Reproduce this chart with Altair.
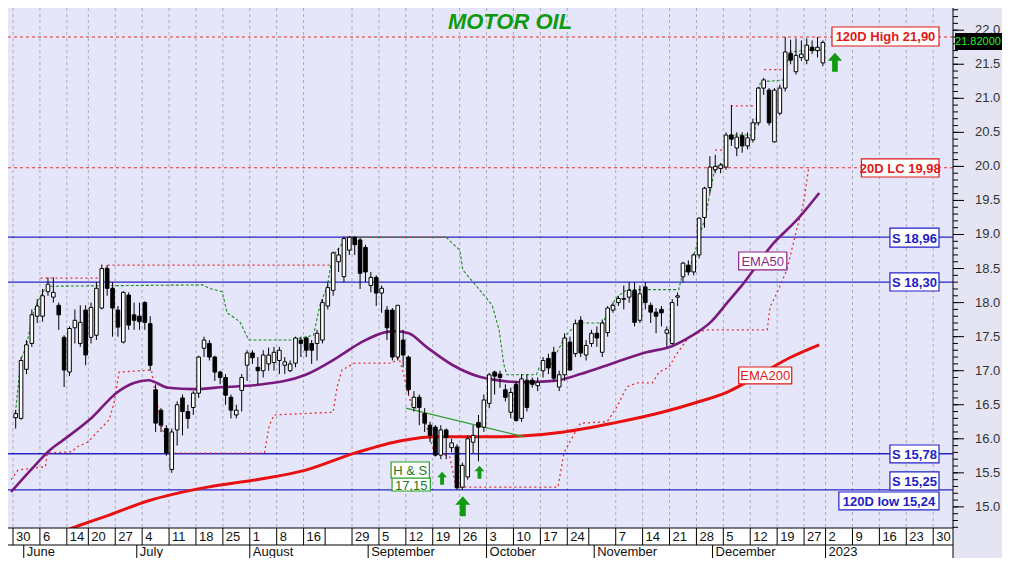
import altair as alt
import numpy as np
import pandas as pd

# ---------------- candle data (trading-day index 0 = 30 May 2022) ----------------
opens = [16.31, 16.30, 17.02, 17.40, 17.80, 17.80, 18.16, 18.08, 17.96, 17.49,
         16.98, 17.63, 17.40, 17.89, 17.49, 17.52, 17.92, 18.50, 18.21, 17.89,
         17.42, 18.11, 17.82, 17.80, 18.00, 17.69, 16.72, 16.42, 16.15, 15.55,
         16.13, 16.60, 16.40, 16.46, 16.67, 17.33, 17.40, 17.20, 16.98, 16.90,
         16.61, 16.35, 16.71, 17.08, 17.26, 17.05, 17.00, 17.10, 17.12, 17.15,
         17.08, 17.00, 17.11, 17.45, 17.48, 17.40, 17.40, 17.45, 17.95, 18.18,
         18.60, 18.38, 18.77, 18.96, 18.92, 18.81, 18.25, 18.37, 18.14, 17.89,
         17.89, 17.20, 17.45, 17.20, 16.46, 16.61, 16.37, 16.20, 16.17, 15.76,
         16.13, 15.87, 15.88, 15.29, 15.44, 15.95, 16.24, 16.17, 16.52, 16.98,
         16.95, 16.72, 16.39, 16.80, 16.30, 16.86, 16.86, 16.78, 17.00, 17.18,
         17.27, 16.76, 16.94, 17.42, 17.25, 17.74, 17.23, 17.40, 17.55, 17.27,
         17.56, 17.89, 18.00, 18.06, 18.08, 18.18, 17.74, 18.23, 17.96, 17.86,
         17.90, 17.55, 17.40, 18.08, 18.38, 18.55, 18.45, 18.70, 19.25, 19.69,
         19.95, 19.97, 19.99, 20.46, 20.27, 20.45, 20.30, 20.39, 20.64, 21.15,
         21.12, 20.36, 20.78, 21.15, 21.66, 21.39, 21.60, 21.56, 21.75, 21.70,
         21.52]
highs = [16.42, 17.20, 17.45, 17.90, 18.05, 18.20, 18.37, 18.37, 18.00, 17.52,
         17.65, 17.90, 17.96, 17.96, 18.00, 18.30, 18.56, 18.55, 18.30, 17.95,
         18.17, 18.15, 18.00, 18.00, 18.02, 17.80, 16.80, 16.45, 16.20, 16.15,
         16.55, 16.65, 16.50, 16.70, 17.22, 17.50, 17.45, 17.22, 17.00, 16.95,
         16.65, 16.50, 16.95, 17.30, 17.30, 17.20, 17.30, 17.34, 17.35, 17.35,
         17.20, 17.15, 17.50, 17.50, 17.50, 17.45, 17.60, 18.05, 18.30, 18.75,
         18.80, 18.97, 18.97, 18.97, 18.95, 18.85, 18.45, 18.40, 18.25, 17.95,
         17.92, 17.96, 17.60, 17.22, 16.70, 16.65, 16.45, 16.25, 16.20, 16.20,
         16.15, 16.00, 15.92, 15.65, 16.05, 16.20, 16.35, 16.65, 16.97, 17.00,
         17.00, 16.80, 16.75, 16.85, 16.95, 16.95, 16.90, 16.90, 17.20, 17.25,
         17.35, 17.00, 17.55, 17.50, 17.75, 17.80, 17.45, 17.60, 17.65, 17.75,
         17.95, 18.00, 18.10, 18.25, 18.30, 18.30, 18.25, 18.30, 18.00, 17.92,
         17.95, 17.65, 18.05, 18.15, 18.60, 18.62, 18.72, 19.25, 19.70, 20.15,
         20.17, 20.05, 20.50, 20.90, 20.50, 20.50, 20.50, 20.70, 21.17, 21.30,
         21.15, 21.15, 21.20, 21.90, 21.86, 21.88, 21.85, 21.88, 21.85, 21.90,
         21.85]
lows = [16.15, 16.28, 16.95, 17.35, 17.70, 17.72, 18.10, 18.00, 17.60, 16.76,
        16.92, 17.40, 17.35, 17.08, 17.40, 17.45, 17.90, 18.10, 17.50, 17.50,
        17.40, 17.60, 17.60, 17.60, 17.60, 17.00, 16.10, 16.10, 15.75, 15.50,
        15.90, 16.05, 16.15, 16.35, 16.60, 17.20, 17.15, 16.85, 16.80, 16.50,
        16.30, 16.30, 16.40, 16.85, 17.10, 16.80, 16.90, 17.00, 17.00, 16.95,
        16.95, 16.98, 17.05, 17.20, 17.20, 17.10, 17.15, 17.40, 17.90, 18.10,
        18.45, 18.30, 18.70, 18.70, 18.20, 18.30, 18.15, 17.95, 17.85, 17.45,
        17.15, 17.15, 17.05, 16.65, 16.40, 16.20, 16.10, 15.95, 15.74, 15.70,
        15.70, 15.80, 15.25, 15.25, 15.40, 15.79, 15.67, 16.10, 16.45, 16.65,
        16.75, 16.55, 16.30, 16.25, 16.25, 16.40, 16.75, 16.70, 16.90, 16.95,
        16.85, 16.70, 16.85, 17.00, 17.20, 17.20, 17.15, 17.35, 17.35, 17.20,
        17.50, 17.85, 17.95, 17.90, 18.00, 17.65, 17.70, 17.90, 17.70, 17.55,
        17.65, 17.35, 17.38, 17.95, 18.30, 18.40, 18.40, 18.65, 19.10, 19.60,
        19.90, 19.90, 19.95, 20.30, 20.15, 20.20, 20.25, 20.35, 20.60, 21.05,
        20.60, 20.35, 20.75, 21.10, 21.50, 21.35, 21.55, 21.50, 21.65, 21.60,
        21.47]
closes = [16.37, 17.15, 17.38, 17.82, 17.95, 18.10, 18.27, 18.15, 17.82, 17.01,
          17.62, 17.74, 17.71, 17.23, 17.93, 18.21, 18.50, 18.21, 17.92, 17.64,
          18.15, 17.67, 17.74, 17.72, 17.71, 17.08, 16.23, 16.20, 15.79, 16.10,
          16.50, 16.40, 16.30, 16.67, 17.20, 17.45, 17.20, 16.98, 16.90, 16.64,
          16.42, 16.42, 16.90, 17.26, 17.19, 17.00, 17.23, 17.23, 17.27, 17.30,
          17.13, 17.10, 17.48, 17.40, 17.30, 17.30, 17.55, 18.00, 18.22, 18.73,
          18.70, 18.94, 18.96, 18.85, 18.43, 18.45, 18.37, 18.14, 18.21, 17.63,
          17.20, 17.96, 17.23, 16.72, 16.61, 16.46, 16.23, 16.05, 15.76, 16.13,
          16.02, 15.94, 15.28, 15.61, 16.00, 16.05, 16.17, 16.57, 16.94, 16.92,
          16.90, 16.61, 16.68, 16.27, 16.88, 16.46, 16.80, 16.83, 17.15, 17.04,
          16.89, 16.94, 17.48, 17.01, 17.69, 17.26, 17.37, 17.55, 17.48, 17.70,
          17.92, 17.96, 18.06, 18.05, 18.18, 17.71, 18.13, 18.00, 17.86, 17.80,
          17.85, 17.60, 18.00, 18.10, 18.58, 18.45, 18.70, 19.24, 19.68, 19.99,
          20.00, 20.02, 20.46, 20.40, 20.43, 20.30, 20.42, 20.64, 21.15, 21.27,
          20.64, 21.12, 21.15, 21.68, 21.56, 21.63, 21.65, 21.78, 21.70, 21.75,
          21.82]

# ---------------- indicator lines ----------------
ema50_k = [-0.36, 3.28, 6.93, 9.31, 14.78, 19.16, 22.45, 25.18, 28.83, 33.76, 39.23,
           45.26, 54.38, 60.4, 64.78, 69.53, 71.17, 73.54, 76.82, 81.75, 86.68, 90.88,
           94.53, 100.55, 105.47, 111.5, 117.7, 122.45, 126.09, 129.74, 132.85, 135.22,
           141.42, 145.62, 149.82]
ema50_v = [15.22, 15.54, 15.84, 15.98, 16.32, 16.67, 16.82, 16.86, 16.75, 16.73, 16.76,
           16.79, 16.94, 17.20, 17.42, 17.57, 17.58, 17.55, 17.35, 17.08, 16.91, 16.85,
           16.83, 16.85, 16.95, 17.11, 17.27, 17.36, 17.51, 17.72, 18.01, 18.23,
           18.88, 19.21, 19.61]

ema200_k = [10.6, 12.41, 17.88, 25.18, 36.13, 45.26, 54.38, 63.5, 72.63, 78.65, 84.85,
            90.88, 94.53, 102.37, 111.5, 120.62, 126.82, 132.85, 138.32, 144.34, 149.82]
ema200_v = [14.68, 14.73, 14.88, 15.09, 15.29, 15.40, 15.54, 15.79, 15.98, 16.03, 16.03,
            16.03, 16.04, 16.10, 16.23, 16.39, 16.53, 16.69, 16.92, 17.19, 17.38]

trail_k = [0.36, 1.46, 2.55, 3.65, 4.74, 5.84, 6.93, 35.22, 36.5, 38.87, 39.78, 42.15,
           43.8, 51.64, 55.84, 57.12, 58.39, 59.31, 61.31, 62.23, 80.47, 83.03, 83.58,
           86.68, 89.05, 90.33, 91.24, 91.79, 97.26, 97.81, 99.64, 102.74, 104.93,
           109.67, 110.58, 112.23, 114.05, 123.72, 124.27, 126.09, 128.65, 130.47,
           132.3, 132.85, 137.77, 138.87, 143.25, 144.34, 147.99, 150.36]
trail_v = [16.31, 17.16, 17.38, 17.82, 18.04, 18.19, 18.24, 18.26, 18.21, 18.16, 17.85,
           17.72, 17.45, 17.45, 17.52, 17.99, 18.23, 18.67, 18.88, 18.96, 18.96, 18.77,
           18.48, 18.19, 17.96, 17.60, 17.08, 16.94, 16.94, 17.05, 17.05, 17.52, 17.70,
           17.70, 17.89, 18.08, 18.19, 18.19, 18.38, 18.58, 19.26, 19.99, 20.05, 20.46,
           20.46, 21.24, 21.27, 21.68, 21.71, 21.71]

lc_k = [-0.36, 0.91, 6.02, 6.39, 10.95, 11.86, 13.87, 17.88, 18.8, 19.71, 25.73, 26.46,
        27.92, 28.83, 46.72, 47.63, 48.54, 59.49, 60.22, 61.13, 63.5, 70.44, 71.72,
        72.63, 73.18, 74.09, 75.36, 76.28, 77.19, 78.1, 81.2, 82.3, 101.28, 102.37,
        103.65, 105.47, 110.4, 112.23, 114.05, 115.88, 118.8, 120.07, 121.9, 123.18,
        125.55, 128.65, 140.15, 140.69, 141.97, 143.8, 145.62, 146.9, 147.81, 148.36]
lc_v = [15.40, 15.54, 15.59, 15.79, 15.81, 15.88, 15.95, 16.28, 16.54, 16.98, 17.01,
        16.64, 16.10, 15.79, 15.79, 16.20, 16.35, 16.39, 16.76, 17.01, 17.11, 17.11,
        17.19, 16.94, 16.72, 16.50, 16.42, 16.35, 16.09, 15.84, 15.73, 15.29, 15.29,
        15.79, 15.98, 16.23, 16.25, 16.47, 16.76, 16.82, 16.82, 16.98, 17.05, 17.23,
        17.49, 17.60, 17.60, 17.94, 18.14, 18.48, 19.07, 19.46, 19.95, 19.98]

hc_seg = ["a", "a", "a", "a", "e", "e", "b", "b", "c", "c", "d", "d"]
hc_k = [5.11, 17.34, 17.34, 59.85, 62.5, 80.5, 130.47, 132.48, 133.39, 137.77, 139.6, 143.43]
hc_v = [18.36, 18.36, 18.55, 18.55, 18.96, 18.96, 20.24, 20.24, 20.89, 20.89, 21.42, 21.42]

neck_k = [72.99, 94.89]
neck_v = [16.45, 16.03]

support_levels = [18.96, 18.30, 15.78, 15.25]
red_levels = [21.90, 19.98]

# ---------------- annotation boxes ----------------
bold_text = ["120D High 21,90", "20D LC 19,98", "S 18,96", "S 18,30", "S 15,78", "S 15,25", "120D low 15,24"]
bold_x1 = [152.19, 157.66, 162.96, 162.96, 162.96, 162.96, 153.47]
bold_x2 = [172.08, 172.08, 172.08, 172.08, 172.08, 172.08, 172.08]
bold_y1 = [21.768, 19.844, 18.816, 18.170, 15.645, 15.248, 14.955]
bold_y2 = [22.047, 20.109, 19.095, 18.435, 15.909, 15.513, 15.219]
bold_col = ["#E01818", "#E01818", "#2020C8", "#2020C8", "#2020C8", "#2020C8", "#2020C8"]

norm_text = ["EMA50", "EMA200", "17,15", "H & S"]
norm_x1 = [134.85, 134.85, 70.44, 70.26]
norm_x2 = [143.80, 144.71, 77.55, 77.37]
norm_y1 = [18.479, 16.805, 15.233, 15.424]
norm_y2 = [18.743, 17.054, 15.424, 15.659]
norm_col = ["#8B1F8B", "#E01818", "#22A022", "#22A022"]
norm_tcol = ["#8B1F8B", "#E01818", "#1E7A1E", "#1E7A1E"]

arrow_k = [79.74, 86.68, 83.58, 152.74]
arrow_v = [15.42, 15.51, 15.01, 21.53]
arrow_s = [169, 169, 400, 361]

# ---------------- date axis ----------------
tick_k = [0, 5, 10, 14, 19, 24, 29, 34, 39, 44, 49, 54, 58, 63, 68, 73, 78, 83, 88, 93,
          98, 103, 107, 112, 117, 122, 127, 132, 137, 142, 147, 151, 156, 161, 166, 171]
tick_lab = ["30", "6", "14", "20", "27", "4", "11", "18", "25", "1", "8", "16", "", "29",
            "5", "12", "19", "26", "3", "10", "17", "24", "", "7", "14", "21", "28", "5",
            "12", "19", "27", "2", "9", "16", "23", "30"]
month_k = [2, 23, 44, 66, 88, 108, 130, 151]
month_lab = ["June", "July", "August", "September", "October", "November", "December", "2023"]

axis_values = [15.0, 15.5, 16.0, 16.5, 17.0, 17.5, 18.0, 18.5, 19.0, 19.5, 20.0, 20.5, 21.0, 21.5, 22.0]
axis_labels = ["15.0", "15.5", "16.0", "16.5", "17.0", "17.5", "18.0", "18.5", "19.0", "19.5",
               "20.0", "20.5", "21.0", "21.5", "22.0"]
last_price = 21.82

# ---------------- frames ----------------
W, H = 945, 520
XMAX = 173.75
YMIN, YMAX = 14.690, 22.326
FONT = "Liberation Sans"

xs = alt.Scale(domain=[0, XMAX], nice=False, zero=False)
ys = alt.Scale(domain=[YMIN, YMAX], nice=False, zero=False)


def xq(f):
    return alt.X(f + ":Q", scale=xs, axis=None)


def yq(f):
    return alt.Y(f + ":Q", scale=ys, axis=None)


n = len(opens)
candles = pd.DataFrame({"k": [i + 0.5 for i in range(n)], "o": opens, "h": highs,
                        "l": lows, "c": closes})
candles["fill"] = ["white" if c >= o else "black" for o, c in zip(opens, closes)]


def line_df(ks, vs):
    return pd.DataFrame({"k": ks, "v": vs, "i": list(range(len(ks)))})


ticks_df = pd.DataFrame({"k": tick_k, "lab": tick_lab})
grid_df = ticks_df[ticks_df["lab"] != ""]
month_df = pd.DataFrame({"k": month_k, "lab": month_lab})
one = pd.DataFrame({"a": [0]})
yaxis_df = pd.DataFrame({"v": axis_values, "lab": axis_labels})

bold_df = pd.DataFrame({"t": bold_text, "x1": bold_x1, "x2": bold_x2, "y1": bold_y1,
                        "y2": bold_y2, "col": bold_col})
bold_df["xm"] = (bold_df["x1"] + bold_df["x2"]) / 2
bold_df["ym"] = (bold_df["y1"] + bold_df["y2"]) / 2
norm_df = pd.DataFrame({"t": norm_text, "x1": norm_x1, "x2": norm_x2, "y1": norm_y1,
                        "y2": norm_y2, "col": norm_col, "tcol": norm_tcol})
norm_df["xm"] = (norm_df["x1"] + norm_df["x2"]) / 2
norm_df["ym"] = (norm_df["y1"] + norm_df["y2"]) / 2

layers = []

# vertical dashed grid
layers.append(alt.Chart(grid_df).mark_rule(color="#9A9AAA", strokeDash=[3, 3], strokeWidth=0.8)
              .encode(x=xq("k")))
# horizontal levels
layers.append(alt.Chart(pd.DataFrame({"v": red_levels}))
              .mark_rule(color="#E23030", strokeDash=[3, 3], strokeWidth=1.2).encode(y=yq("v")))
layers.append(alt.Chart(pd.DataFrame({"v": support_levels}))
              .mark_rule(color="#2626C8", strokeWidth=1.3).encode(y=yq("v")))
# red dotted channel lines
layers.append(alt.Chart(line_df(lc_k, lc_v))
              .mark_line(color="#E23030", strokeDash=[2, 3], strokeWidth=1.3, clip=True)
              .encode(x=xq("k"), y=yq("v"), order="i:Q"))
hc_df = pd.DataFrame({"k": hc_k, "v": hc_v, "seg": hc_seg, "i": list(range(len(hc_k)))})
layers.append(alt.Chart(hc_df)
              .mark_line(color="#E23030", strokeDash=[2, 3], strokeWidth=1.3, clip=True)
              .encode(x=xq("k"), y=yq("v"), detail="seg:N", order="i:Q"))
# green trailing dashed
layers.append(alt.Chart(line_df(trail_k, trail_v))
              .mark_line(color="#1E8C1E", strokeDash=[3, 2], strokeWidth=1.1, clip=True)
              .encode(x=xq("k"), y=yq("v"), order="i:Q"))
# EMAs
layers.append(alt.Chart(line_df(ema200_k, ema200_v))
              .mark_line(color="#E81010", strokeWidth=3, interpolate="monotone", clip=True)
              .encode(x=xq("k"), y=yq("v"), order="i:Q"))
layers.append(alt.Chart(line_df(ema50_k, ema50_v))
              .mark_line(color="#7A1A7E", strokeWidth=2.6, interpolate="monotone", clip=True)
              .encode(x=xq("k"), y=yq("v"), order="i:Q"))
# neckline
layers.append(alt.Chart(line_df(neck_k, neck_v))
              .mark_line(color="#2E9E2E", strokeWidth=1.3)
              .encode(x=xq("k"), y=yq("v"), order="i:Q"))
# candles
layers.append(alt.Chart(candles).mark_rule(color="black", strokeWidth=1)
              .encode(x=xq("k"), y=yq("l"), y2=alt.Y2("h")))
layers.append(alt.Chart(candles).mark_bar(size=3.6, stroke="black", strokeWidth=1)
              .encode(x=xq("k"), y=yq("o"), y2=alt.Y2("c"),
                      fill=alt.Fill("fill:N", scale=None)))
# annotation boxes
layers.append(alt.Chart(norm_df).mark_rect(fill="white", strokeWidth=1.2)
              .encode(x=xq("x1"), x2=alt.X2("x2"), y=yq("y1"), y2=alt.Y2("y2"),
                      stroke=alt.Stroke("col:N", scale=None)))
layers.append(alt.Chart(norm_df).mark_text(font=FONT, fontSize=13, baseline="middle", dy=1)
              .encode(x=xq("xm"), y=yq("ym"), text="t:N", color=alt.Color("tcol:N", scale=None)))
layers.append(alt.Chart(bold_df).mark_rect(fill="white", strokeWidth=1.2)
              .encode(x=xq("x1"), x2=alt.X2("x2"), y=yq("y1"), y2=alt.Y2("y2"),
                      stroke=alt.Stroke("col:N", scale=None)))
layers.append(alt.Chart(bold_df).mark_text(font=FONT, fontSize=13, fontWeight="bold", baseline="middle", dy=1)
              .encode(x=xq("xm"), y=yq("ym"), text="t:N", color=alt.Color("col:N", scale=None)))
# arrows
arrow_path = "M0,-1L0.75,-0.15L0.3,-0.15L0.3,1L-0.3,1L-0.3,-0.15L-0.75,-0.15Z"
layers.append(alt.Chart(pd.DataFrame({"k": arrow_k, "v": arrow_v, "s": arrow_s}))
              .mark_point(shape=arrow_path, filled=True, color="#129A12", opacity=1, strokeWidth=0)
              .encode(x=xq("k"), y=yq("v"), size=alt.Size("s:Q", scale=None)))
# title
layers.append(alt.Chart(pd.DataFrame({"t": ["MOTOR OIL"]}))
              .mark_text(font=FONT, fontSize=22, fontWeight="bold", fontStyle="italic",
                         color="#0E9A0E", baseline="middle")
              .encode(x=alt.value(502), y=alt.value(14), text="t:N"))
# right price axis (drawn by hand)
layers.append(alt.Chart(one).mark_rule(color="#000000", strokeWidth=1)
              .encode(x=alt.value(W), y=alt.value(0), y2=alt.value(H)))
minor_df = pd.DataFrame({"v": np.round(np.arange(14.7, 22.32, 0.1), 2)})
layers.append(alt.Chart(minor_df).mark_rule(color="#000000", strokeWidth=1)
              .encode(x=alt.value(W), x2=alt.value(W + 5), y=yq("v")))
layers.append(alt.Chart(yaxis_df).mark_rule(color="#000000", strokeWidth=1)
              .encode(x=alt.value(W), x2=alt.value(W + 11), y=yq("v")))
layers.append(alt.Chart(yaxis_df).mark_text(font=FONT, fontSize=13, align="left", baseline="middle",
                                            color="#333333")
              .encode(x=alt.value(W + 22), y=yq("v"), text="lab:N"))
# last-price tag
tag_df = pd.DataFrame({"p": [last_price], "y1": [21.709], "y2": [21.959], "t": ["21.82000"]})
layers.append(alt.Chart(tag_df).mark_rect(fill="black")
              .encode(x=alt.value(W + 2), x2=alt.value(W + 49), y=yq("y1"), y2=alt.Y2("y2")))
layers.append(alt.Chart(tag_df).mark_text(font=FONT, fontSize=11, color="#22F022", baseline="middle")
              .encode(x=alt.value(W + 25), y=yq("p"), text="t:N"))
# date axis
layers.append(alt.Chart(one).mark_rect(fill="white")
              .encode(x=alt.value(0), x2=alt.value(W), y=alt.value(H), y2=alt.value(H + 30)))
layers.append(alt.Chart(one).mark_rule(color="black", strokeWidth=1)
              .encode(x=alt.value(0), x2=alt.value(W), y=alt.value(H)))
layers.append(alt.Chart(one).mark_rule(color="black", strokeWidth=1)
              .encode(x=alt.value(0), x2=alt.value(W), y=alt.value(H + 17)))
layers.append(alt.Chart(one).mark_rule(color="black", strokeWidth=1)
              .encode(x=alt.value(W), y=alt.value(H), y2=alt.value(H + 30)))
layers.append(alt.Chart(ticks_df).mark_rule(color="black", strokeWidth=1)
              .encode(x=xq("k"), y=alt.value(H), y2=alt.value(H + 17)))
layers.append(alt.Chart(ticks_df).mark_text(font=FONT, fontSize=13, align="left", baseline="middle",
                                            dx=3, color="#111111")
              .encode(x=xq("k"), y=alt.value(H + 9), text="lab:N"))
layers.append(alt.Chart(month_df).mark_rule(color="black", strokeWidth=1)
              .encode(x=xq("k"), y=alt.value(H + 17), y2=alt.value(H + 30)))
layers.append(alt.Chart(month_df).mark_text(font=FONT, fontSize=13, align="left", baseline="middle",
                                            dx=3, color="#111111")
              .encode(x=xq("k"), y=alt.value(H + 24), text="lab:N"))

chart = (alt.layer(*layers)
         .properties(width=W, height=H, background="#E4E4F2",
                     padding={"left": 0, "top": 0, "right": 49, "bottom": 30},
                     autosize=alt.AutoSizeParams(type="none"))
         .configure_view(stroke=None, fill="#E6E6FA"))

chart.save("out.html", embed_options={"renderer": "svg", "actions": False})
